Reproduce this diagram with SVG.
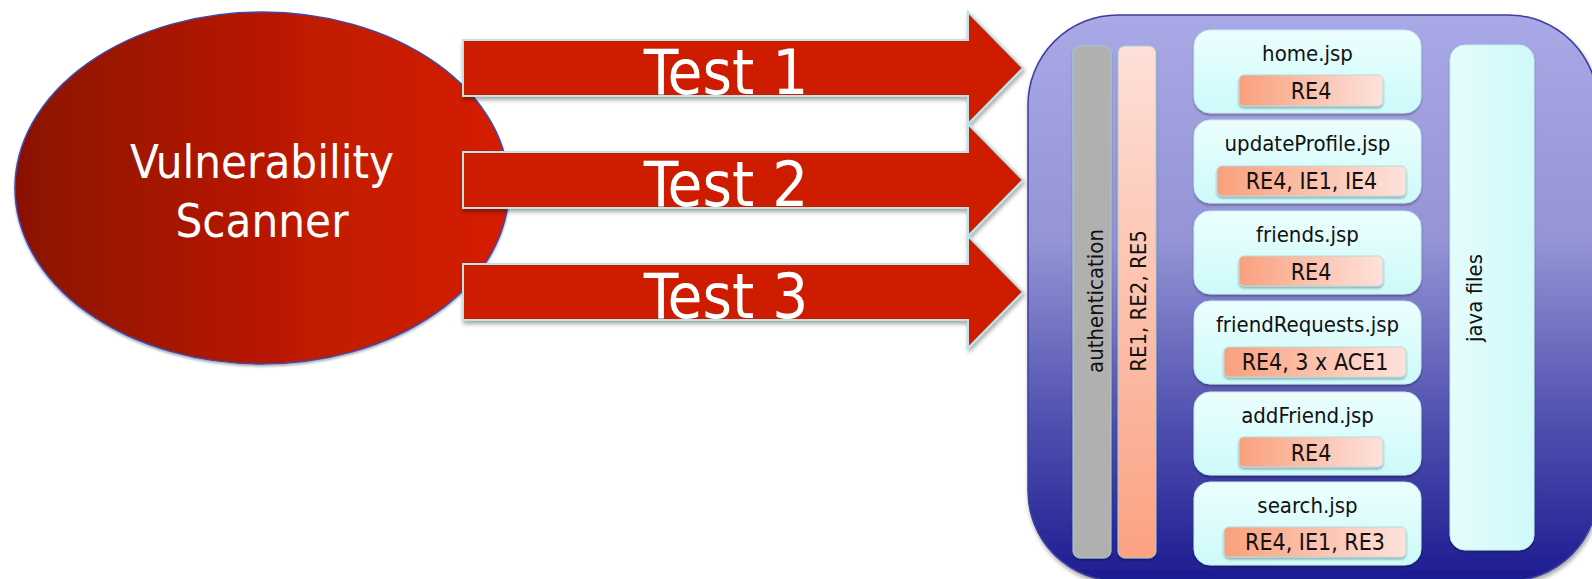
<svg xmlns="http://www.w3.org/2000/svg" width="1592" height="579" viewBox="0 0 1592 579">
<defs>
  <linearGradient id="gEll" x1="15" y1="0" x2="510" y2="0" gradientUnits="userSpaceOnUse">
    <stop offset="0" stop-color="#8a1100"/>
    <stop offset="0.6" stop-color="#c01a00"/>
    <stop offset="1" stop-color="#d61e00"/>
  </linearGradient>
  <linearGradient id="gCont" x1="0" y1="15" x2="0" y2="580" gradientUnits="userSpaceOnUse">
    <stop offset="0" stop-color="#a9a9e7"/>
    <stop offset="0.4" stop-color="#9494d6"/>
    <stop offset="0.7" stop-color="#5454b2"/>
    <stop offset="1" stop-color="#1c1c92"/>
  </linearGradient>
  <linearGradient id="gBox" x1="0" y1="0" x2="0" y2="1">
    <stop offset="0" stop-color="#ecfefe"/>
    <stop offset="1" stop-color="#cdfafa"/>
  </linearGradient>
  <linearGradient id="gJava" x1="0" y1="0" x2="1" y2="0">
    <stop offset="0" stop-color="#e4fcfc"/>
    <stop offset="1" stop-color="#d0f9fa"/>
  </linearGradient>
  <linearGradient id="gTag" x1="0" y1="0" x2="1" y2="0">
    <stop offset="0" stop-color="#f9a07c"/>
    <stop offset="1" stop-color="#fee2dc"/>
  </linearGradient>
  <linearGradient id="gRE" x1="0" y1="0" x2="0" y2="1">
    <stop offset="0" stop-color="#fee0d8"/>
    <stop offset="1" stop-color="#fba282"/>
  </linearGradient>
  <filter id="sh" x="-10%" y="-10%" width="120%" height="130%">
    <feDropShadow dx="1" dy="3" stdDeviation="2" flood-color="#000" flood-opacity="0.35"/>
  </filter>
  <filter id="shs" x="-10%" y="-20%" width="120%" height="150%">
    <feDropShadow dx="0" dy="2" stdDeviation="1.2" flood-color="#000" flood-opacity="0.3"/>
  </filter>
</defs>
<style>
  .t { font-family: "DejaVu Sans Condensed", "DejaVu Sans", sans-serif; }
  .white { fill: #ffffff; }
  .blk { fill: #111111; }
  .arrow { fill: #cd1d00; stroke: #bde3e8; stroke-width: 2; filter: url(#sh); }
  .box { fill: url(#gBox); stroke: #c6ecee; stroke-width: 1; filter: url(#shs); }
  .tag { fill: url(#gTag); stroke: #b6dadc; stroke-width: 1; filter: url(#shs); }
  .title { font-size: 22px; text-anchor: middle; }
  .tagt { font-size: 23px; text-anchor: middle; }
  .big { font-size: 63px; text-anchor: middle; }
  .vert { font-size: 22px; text-anchor: middle; }
</style>

<g id="scanner">
  <ellipse cx="262" cy="188" rx="247" ry="176" fill="url(#gEll)" stroke="#3c4ab0" stroke-width="1.5" filter="url(#shs)"/>
  <text class="t white" x="262" y="178" font-size="47" text-anchor="middle">Vulnerability</text>
  <text class="t white" x="262" y="237" font-size="47" text-anchor="middle">Scanner</text>
</g>

<g id="connectors">
  <g id="test1">
    <polygon class="arrow" points="463,40 968,40 968,12 1023,68 968,124 968,96 463,96"/>
    <text class="t white big" x="726" y="94">Test 1</text>
  </g>
  <g id="test2">
    <polygon class="arrow" points="463,152 968,152 968,124 1023,180 968,236 968,208 463,208"/>
    <text class="t white big" x="726" y="206">Test 2</text>
  </g>
  <g id="test3">
    <polygon class="arrow" points="463,264 968,264 968,236 1023,292 968,348 968,320 463,320"/>
    <text class="t white big" x="726" y="318">Test 3</text>
  </g>
</g>

<g id="application">
  <rect x="1028" y="15" width="570" height="566" rx="90" ry="90" fill="url(#gCont)" stroke="#3e3e9e" stroke-width="1.5" filter="url(#sh)"/>
</g>

<g id="authentication">
  <rect x="1073" y="46" width="38" height="512" rx="7" fill="#b0b0b0" stroke="#a6cfd2" stroke-width="1" filter="url(#shs)"/>
  <text class="t blk vert" x="1103" y="301" transform="rotate(-90 1103 301)">authentication</text>
</g>

<g id="re-bar">
  <rect x="1118" y="46" width="38" height="512" rx="7" fill="url(#gRE)" stroke="#a6cfd2" stroke-width="1" filter="url(#shs)"/>
  <text class="t blk vert" x="1146" y="301" transform="rotate(-90 1146 301)">RE1, RE2, RE5</text>
</g>

<g id="home">
  <rect class="box" x="1194" y="30" width="227" height="83" rx="16"/>
  <text class="t blk title" x="1307.5" y="61">home.jsp</text>
  <rect class="tag" x="1239" y="75" width="144" height="31" rx="5"/>
  <text class="t blk tagt" x="1311" y="99">RE4</text>
</g>

<g id="updateProfile">
  <rect class="box" x="1194" y="120" width="227" height="83" rx="16"/>
  <text class="t blk title" x="1307.5" y="151">updateProfile.jsp</text>
  <rect class="tag" x="1217" y="166" width="189" height="30" rx="5"/>
  <text class="t blk tagt" x="1311.5" y="189">RE4, IE1, IE4</text>
</g>

<g id="friends">
  <rect class="box" x="1194" y="211" width="227" height="83" rx="16"/>
  <text class="t blk title" x="1307.5" y="242">friends.jsp</text>
  <rect class="tag" x="1239" y="256" width="144" height="30" rx="5"/>
  <text class="t blk tagt" x="1311" y="280">RE4</text>
</g>

<g id="friendRequests">
  <rect class="box" x="1194" y="301" width="227" height="83" rx="16"/>
  <text class="t blk title" x="1307.5" y="332">friendRequests.jsp</text>
  <rect class="tag" x="1224" y="347" width="182" height="30" rx="5"/>
  <text class="t blk tagt" x="1315" y="370">RE4, 3 x ACE1</text>
</g>

<g id="addFriend">
  <rect class="box" x="1194" y="392" width="227" height="83" rx="16"/>
  <text class="t blk title" x="1307.5" y="423">addFriend.jsp</text>
  <rect class="tag" x="1239" y="437" width="144" height="30" rx="5"/>
  <text class="t blk tagt" x="1311" y="461">RE4</text>
</g>

<g id="search">
  <rect class="box" x="1194" y="482" width="227" height="83" rx="16"/>
  <text class="t blk title" x="1307.5" y="513">search.jsp</text>
  <rect class="tag" x="1224" y="527" width="182" height="30" rx="5"/>
  <text class="t blk tagt" x="1315" y="550">RE4, IE1, RE3</text>
</g>

<g id="java-files">
  <rect x="1450" y="45" width="84" height="505" rx="15" fill="url(#gJava)" stroke="#c6ecee" stroke-width="1" filter="url(#shs)"/>
  <text class="t blk vert" x="1482" y="298" transform="rotate(-90 1482 298)">java files</text>
</g>
</svg>
